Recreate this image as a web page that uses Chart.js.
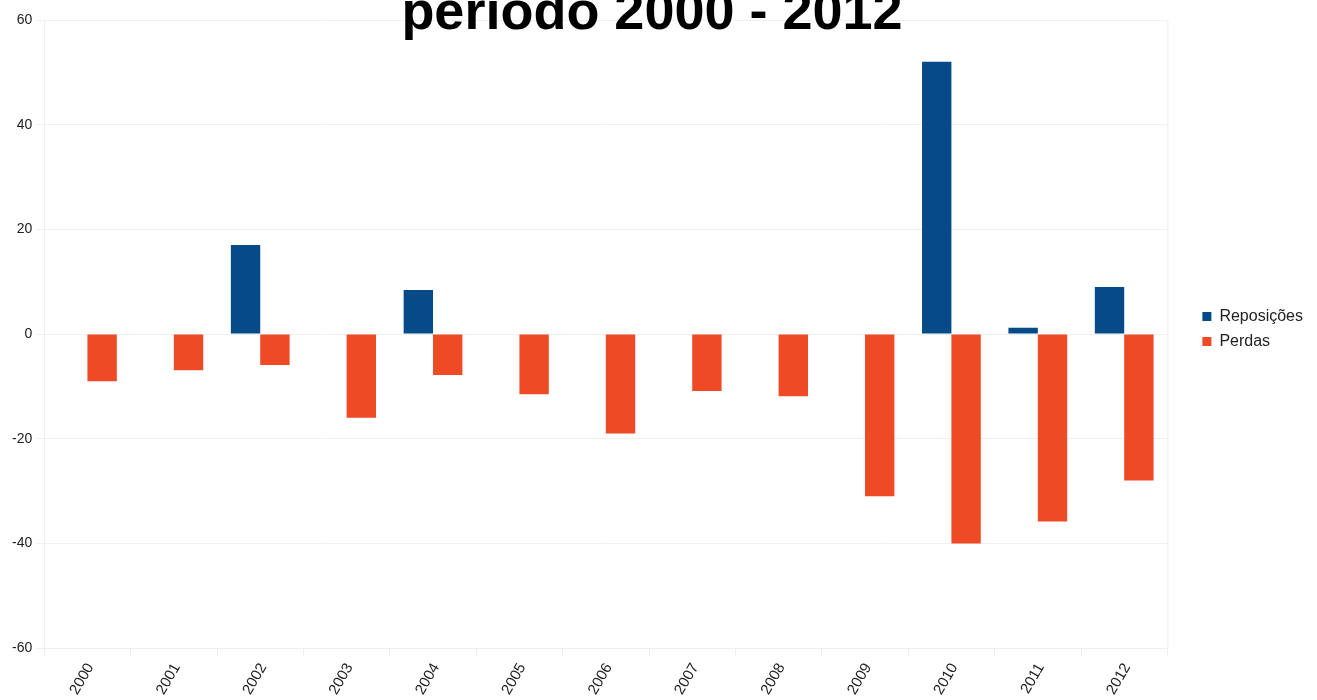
<!DOCTYPE html>
<html>
<head>
<meta charset="utf-8">
<script src="https://cdn.jsdelivr.net/npm/chart.js@4/dist/chart.umd.min.js"></script>
<style>
  html, body { margin: 0; padding: 0; background: #ffffff; }
  #wrap { position: relative; width: 1317px; height: 700px; }
</style>
</head>
<body>
<div id="wrap"><canvas id="chart"></canvas></div>
<script>
// Anos
const years = ['2000','2001','2002','2003','2004','2005','2006','2007','2008','2009','2010','2011','2012'];
// Reposições por ano
const reposicoes = [0, 0, 17, 0, 8.4, 0, 0, 0, 0, 0, 52, 1.2, 9];
// Perdas por ano
const perdas = [-9, -6.9, -5.9, -16, -7.8, -11.5, -19, -10.9, -11.9, -31, -40, -35.8, -28];
// Marcas do eixo vertical
const yTicks = [-60, -40, -20, 0, 20, 40, 60];

const titleText = 'período 2000 - 2012';
const fontFamily = '"Liberation Sans", Arial, sans-serif';

// Título desenhado no topo, parcialmente cortado pela borda
const titlePlugin = {
  id: 'topTitle',
  afterDraw(chart) {
    const ctx = chart.ctx;
    ctx.save();
    ctx.fillStyle = '#000000';
    ctx.font = 'bold 54px ' + fontFamily;
    ctx.textAlign = 'center';
    ctx.textBaseline = 'alphabetic';
    ctx.fillText(titleText, 652, 29);
    ctx.restore();
  }
};

// Linha fina à direita da área do gráfico
const framePlugin = {
  id: 'rightEdge',
  beforeDatasetsDraw(chart) {
    const a = chart.chartArea;
    const ctx = chart.ctx;
    ctx.save();
    ctx.strokeStyle = '#eeeeee';
    ctx.lineWidth = 1;
    ctx.beginPath();
    ctx.moveTo(a.right + 0.5, a.top);
    ctx.lineTo(a.right + 0.5, a.bottom);
    ctx.stroke();
    ctx.restore();
  }
};

// Sobe a legenda um pouco acima do centro vertical
const legendShift = {
  id: 'legendShift',
  afterLayout(chart) {
    const lg = chart.legend;
    if (lg) { lg.top -= 32; lg.bottom -= 32; }
  }
};

new Chart(document.getElementById('chart'), {
  type: 'bar',
  data: {
    labels: years,
    datasets: [
      { label: 'Reposições', data: reposicoes, backgroundColor: '#064a87', borderWidth: 0 },
      { label: 'Perdas', data: perdas, backgroundColor: '#ee4a25', borderWidth: 0 }
    ]
  },
  options: {
    responsive: true,
    maintainAspectRatio: false,
    animation: false,
    categoryPercentage: 0.68,
    barPercentage: 1.0,
    layout: { padding: { top: 20, left: 8, right: 4, bottom: -2 } },
    plugins: {
      title: { display: false },
      tooltip: { enabled: false },
      legend: {
        position: 'right',
        align: 'center',
        labels: {
          boxWidth: 9,
          boxHeight: 9,
          padding: 9,
          color: '#222222',
          font: { family: fontFamily, size: 16 }
        }
      }
    },
    scales: {
      x: {
        grid: { display: true, drawOnChartArea: false, color: '#eeeeee', tickLength: 8 },
        border: { color: '#eeeeee' },
        ticks: {
          minRotation: 60,
          maxRotation: 60,
          padding: 4,
          labelOffset: 3,
          color: '#222222',
          font: { family: fontFamily, size: 15 }
        }
      },
      y: {
        min: yTicks[0],
        max: yTicks[yTicks.length - 1],
        afterBuildTicks(scale) { scale.ticks = yTicks.map(v => ({ value: v })); },
        grid: { color: '#f0f0f0', tickLength: 8 },
        border: { color: '#eeeeee' },
        ticks: {
          padding: 4,
          color: '#222222',
          font: { family: fontFamily, size: 14 }
        }
      },
      // espaço vazio entre a área do gráfico e a legenda
      gap: {
        type: 'linear',
        position: 'right',
        display: true,
        grid: { display: false },
        border: { display: false },
        ticks: { display: false },
        afterFit(scale) { scale.width = 26; }
      }
    }
  },
  plugins: [framePlugin, titlePlugin, legendShift]
});
</script>
</body>
</html>
